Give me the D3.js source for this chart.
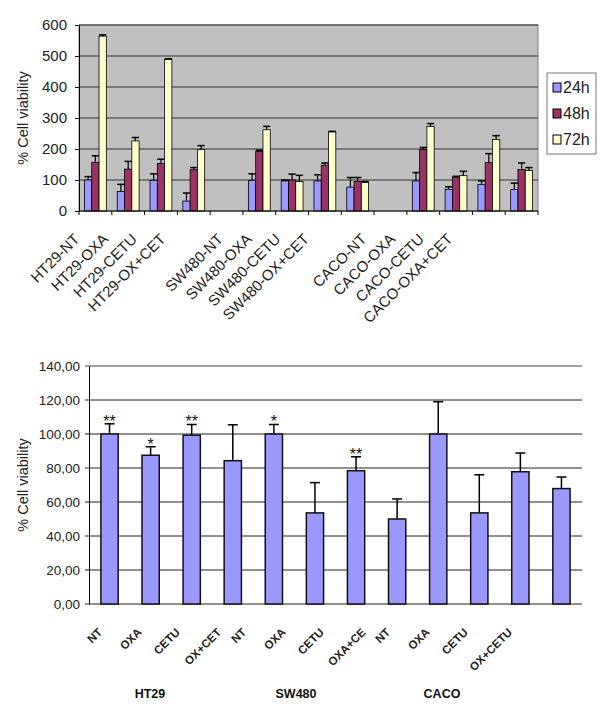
<!DOCTYPE html>
<html>
<head>
<meta charset="utf-8">
<script src="https://cdn.jsdelivr.net/npm/d3@7"></script>
<style>
  body { margin: 0; background: #fff; }
  text { font-family: "Liberation Sans", Arial, sans-serif; }
</style>
</head>
<body>
<div id="chart-container"></div>
<script>
// Top chart data: 14 slots, empty strings are gaps between cell lines
const topCategories = ["HT29-NT", "HT29-OXA", "HT29-CETU", "HT29-OX+CET", "",
  "SW480-NT", "SW480-OXA", "SW480-CETU", "SW480-OX+CET", "",
  "CACO-NT", "CACO-OXA", "CACO-CETU", "CACO-OXA+CET"];
const topSeries = ["24h", "48h", "72h"];
const values24 = [100, 63, 99, 32, null, 99, 97, 97, 77, null, 97, 70, 86, 69];
const errTop24 = [111, 86, 120, 58, null, 120, 100, 117, 108, null, 124, 78, 97, 90];
const values48 = [157, 135, 153, 133, null, 192, 100, 148, 95, null, 198, 109, 156, 134];
const errTop48 = [178, 160, 167, 140, null, 196, 119, 155, 108, null, 205, 112, 185, 155];
const values72 = [564, 226, 489, 198, null, 262, 95, 255, 92, null, 273, 114, 231, 131];
const errTop72 = [568, 237, 491, 211, null, 273, 115, 257, 95, null, 282, 128, 243, 140];
const topTicks = [0, 100, 200, 300, 400, 500, 600];

// Bottom chart data
const bottomCategories = ["NT", "OXA", "CETU", "OX+CET", "NT", "OXA", "CETU", "OXA+CE",
  "NT", "OXA", "CETU", "OX+CETU"];
const bottomValues = [100, 87.5, 99.3, 84.3, 100, 53.6, 78.4, 50, 100, 53.6, 77.8, 67.9];
const bottomErrTop = [106, 92.5, 105.6, 105.4, 105.6, 71.4, 86.6, 61.8, 119, 76, 88.8, 74.7];
const bottomStars = ["**", "*", "**", "", "*", "", "**", "", "", "", "", ""];
const bottomGroups = ["HT29", "SW480", "CACO"];
const bottomTicks = [0, 20, 40, 60, 80, 100, 120, 140];

const colors = { "24h": "#9999ff", "48h": "#993366", "72h": "#ffffcc" };
const topData = [values24, values48, values72];
const topErr = [errTop24, errTop48, errTop72];

const svg = d3.select("#chart-container").append("svg")
  .attr("width", 600).attr("height", 717);

// ---------- top chart ----------
const t = { left: 79, right: 538, top: 25, bottom: 211 };

const xTop = d3.scaleBand()
  .domain(d3.range(topCategories.length))
  .range([t.left, t.right])
  .paddingInner(0).paddingOuter(0);

const xSub = d3.scaleBand()
  .domain(topSeries)
  .range([0, xTop.bandwidth()])
  .paddingOuter(0.75);

// the category labels sit a bit tighter than the slots, like in the original
const xTopLabel = d3.scalePoint()
  .domain(d3.range(topCategories.length))
  .range([80, 453]);

const yTop = d3.scaleLinear().domain([0, 600]).range([t.bottom, t.top]);

// gray plot background
svg.append("rect")
  .attr("x", t.left).attr("y", t.top)
  .attr("width", t.right - t.left).attr("height", t.bottom - t.top)
  .attr("fill", "#c0c0c0").attr("stroke", "#808080");

// gridlines
svg.append("g").selectAll("line").data(topTicks.slice(1)).join("line")
  .attr("x1", t.left).attr("x2", t.right)
  .attr("y1", (d) => yTop(d)).attr("y2", (d) => yTop(d))
  .attr("stroke", "#333").attr("stroke-width", 1);

// y axis
const yAxisTop = svg.append("g")
  .attr("transform", `translate(${t.left},0)`)
  .call(d3.axisLeft(yTop).tickValues(topTicks).tickSize(4).tickPadding(8).tickSizeOuter(0));
yAxisTop.select(".domain").attr("stroke", "#000");
yAxisTop.selectAll("text")
  .attr("font-size", 15).attr("fill", "#222")
  .attr("font-family", "Liberation Sans, Arial, sans-serif");

svg.append("text")
  .attr("transform", `translate(28,${(t.top + t.bottom) / 2}) rotate(-90)`)
  .attr("text-anchor", "middle")
  .attr("font-size", 14.5).attr("fill", "#222")
  .text("% Cell viability");

// bars
topSeries.forEach((s, si) => {
  const g = svg.append("g");
  const rows = topCategories.map((c, i) => ({ i, v: topData[si][i], e: topErr[si][i] }))
    .filter((d) => d.v != null);

  g.selectAll("rect").data(rows).join("rect")
    .attr("x", (d) => xTop(d.i) + xSub(s))
    .attr("y", (d) => yTop(d.v))
    .attr("width", xSub.bandwidth())
    .attr("height", (d) => yTop(0) - yTop(d.v))
    .attr("fill", colors[s]).attr("stroke", "#000").attr("stroke-width", 0.8);

  // upper error whisker
  g.selectAll("line.err").data(rows).join("line").attr("class", "err")
    .attr("x1", (d) => xTop(d.i) + xSub(s) + xSub.bandwidth() / 2)
    .attr("x2", (d) => xTop(d.i) + xSub(s) + xSub.bandwidth() / 2)
    .attr("y1", (d) => yTop(d.v)).attr("y2", (d) => yTop(d.e))
    .attr("stroke", "#000").attr("stroke-width", 1.2);
  g.selectAll("line.cap").data(rows).join("line").attr("class", "cap")
    .attr("x1", (d) => xTop(d.i) + xSub(s))
    .attr("x2", (d) => xTop(d.i) + xSub(s) + xSub.bandwidth())
    .attr("y1", (d) => yTop(d.e)).attr("y2", (d) => yTop(d.e))
    .attr("stroke", "#000").attr("stroke-width", 1.5);
});

// x axis line and ticks on slot boundaries
svg.append("line")
  .attr("x1", t.left).attr("x2", t.right)
  .attr("y1", t.bottom).attr("y2", t.bottom)
  .attr("stroke", "#000");
svg.append("g").selectAll("line")
  .data(d3.range(topCategories.length + 1)).join("line")
  .attr("x1", (i) => (i < topCategories.length ? xTop(i) : t.right))
  .attr("x2", (i) => (i < topCategories.length ? xTop(i) : t.right))
  .attr("y1", t.bottom).attr("y2", t.bottom + 4)
  .attr("stroke", "#000");

// rotated category labels
const xAxisTop = svg.append("g")
  .attr("transform", `translate(0,${t.bottom})`)
  .call(d3.axisBottom(xTopLabel).tickSize(0).tickFormat((i) => topCategories[i]));
xAxisTop.select(".domain").remove();
xAxisTop.selectAll("text")
  .attr("font-size", 15).attr("fill", "#222")
  .attr("text-anchor", "end")
  .attr("transform", "translate(0,29) rotate(-45)")
  .attr("dy", 0).attr("y", 0);

// legend
const lg = svg.append("g").attr("transform", "translate(547,73)");
lg.append("rect").attr("width", 49).attr("height", 81)
  .attr("fill", "#fff").attr("stroke", "#777");
topSeries.forEach((s, i) => {
  lg.append("rect").attr("x", 6).attr("y", 10 + i * 26)
    .attr("width", 8).attr("height", 9)
    .attr("fill", colors[s]).attr("stroke", "#000");
  lg.append("text").attr("x", 16).attr("y", 19.5 + i * 26)
    .attr("font-size", 16).attr("fill", "#222").text(s);
});

// ---------- bottom chart ----------
const b = { left: 89, right: 582, top: 366, bottom: 604 };

const xBot = d3.scaleBand()
  .domain(d3.range(bottomCategories.length))
  .range([b.left, b.right])
  .paddingInner(0.58).paddingOuter(0.29);

// label centres are spaced tighter than the bars in the original
const xBotLabel = d3.scalePoint()
  .domain(d3.range(bottomCategories.length))
  .range([94, 490]);

const yBot = d3.scaleLinear().domain([0, 140]).range([b.bottom, b.top]);

svg.append("g").selectAll("line").data(bottomTicks).join("line")
  .attr("x1", b.left - 4).attr("x2", b.right)
  .attr("y1", (d) => yBot(d)).attr("y2", (d) => yBot(d))
  .attr("stroke", (d) => (d === 140 ? "#808080" : "#222"))
  .attr("stroke-width", (d) => (d === 140 ? 1.5 : 1));

const yAxisBot = svg.append("g")
  .attr("transform", `translate(${b.left},0)`)
  .call(d3.axisLeft(yBot).tickValues(bottomTicks).tickSize(4).tickPadding(5).tickSizeOuter(0)
    .tickFormat((d) => d3.format(".2f")(d).replace(".", ",")));
yAxisBot.select(".domain").attr("stroke", "#000");
yAxisBot.selectAll(".tick line").attr("stroke", "none");
yAxisBot.selectAll("text")
  .attr("font-size", 13.5).attr("fill", "#222")
  .attr("font-family", "Liberation Sans, Arial, sans-serif");

svg.append("text")
  .attr("transform", `translate(28,${(b.top + b.bottom) / 2}) rotate(-90)`)
  .attr("text-anchor", "middle")
  .attr("font-size", 14.5).attr("fill", "#222")
  .text("% Cell viability");

const botRows = bottomCategories.map((c, i) => ({
  i, v: bottomValues[i], e: bottomErrTop[i], star: bottomStars[i]
}));

const bg = svg.append("g");
bg.selectAll("line.err").data(botRows).join("line").attr("class", "err")
  .attr("x1", (d) => xBot(d.i) + xBot.bandwidth() / 2)
  .attr("x2", (d) => xBot(d.i) + xBot.bandwidth() / 2)
  .attr("y1", (d) => yBot(d.v)).attr("y2", (d) => yBot(d.e))
  .attr("stroke", "#000").attr("stroke-width", 1.5);
bg.selectAll("line.cap").data(botRows).join("line").attr("class", "cap")
  .attr("x1", (d) => xBot(d.i) + xBot.bandwidth() / 2 - 5)
  .attr("x2", (d) => xBot(d.i) + xBot.bandwidth() / 2 + 5)
  .attr("y1", (d) => yBot(d.e)).attr("y2", (d) => yBot(d.e))
  .attr("stroke", "#000").attr("stroke-width", 1.5);
bg.selectAll("rect").data(botRows).join("rect")
  .attr("x", (d) => xBot(d.i))
  .attr("y", (d) => yBot(d.v))
  .attr("width", xBot.bandwidth())
  .attr("height", (d) => yBot(0) - yBot(d.v))
  .attr("fill", "#9999ff").attr("stroke", "#111").attr("stroke-width", 1.5);
bg.selectAll("text").data(botRows.filter((d) => d.star)).join("text")
  .attr("x", (d) => xBot(d.i) + xBot.bandwidth() / 2)
  .attr("y", (d) => yBot(d.e) + 3)
  .attr("text-anchor", "middle")
  .attr("font-size", 16).attr("fill", "#111")
  .text((d) => d.star);

const xAxisBot = svg.append("g")
  .attr("transform", `translate(0,${b.bottom})`)
  .call(d3.axisBottom(xBotLabel).tickSize(0).tickFormat((i) => bottomCategories[i]));
xAxisBot.select(".domain").remove();
xAxisBot.selectAll("text")
  .attr("font-size", 11.5).attr("font-weight", "bold").attr("fill", "#222")
  .attr("text-anchor", "end")
  .attr("dy", 0).attr("y", 0)
  .attr("transform", function () {
    // shift so the label's bounding box is centred on its slot, top edges aligned
    const len = this.getComputedTextLength();
    return `translate(${len * 0.354 + 3},29) rotate(-45)`;
  });

// cell line group labels
const groupScale = d3.scalePoint().domain(bottomGroups).range([150, 442]);
svg.append("g").selectAll("text").data(bottomGroups).join("text")
  .attr("x", (d) => groupScale(d))
  .attr("y", 698)
  .attr("text-anchor", "middle")
  .attr("font-size", 12.5).attr("font-weight", "bold").attr("fill", "#111")
  .text((d) => d);
</script>
</body>
</html>
